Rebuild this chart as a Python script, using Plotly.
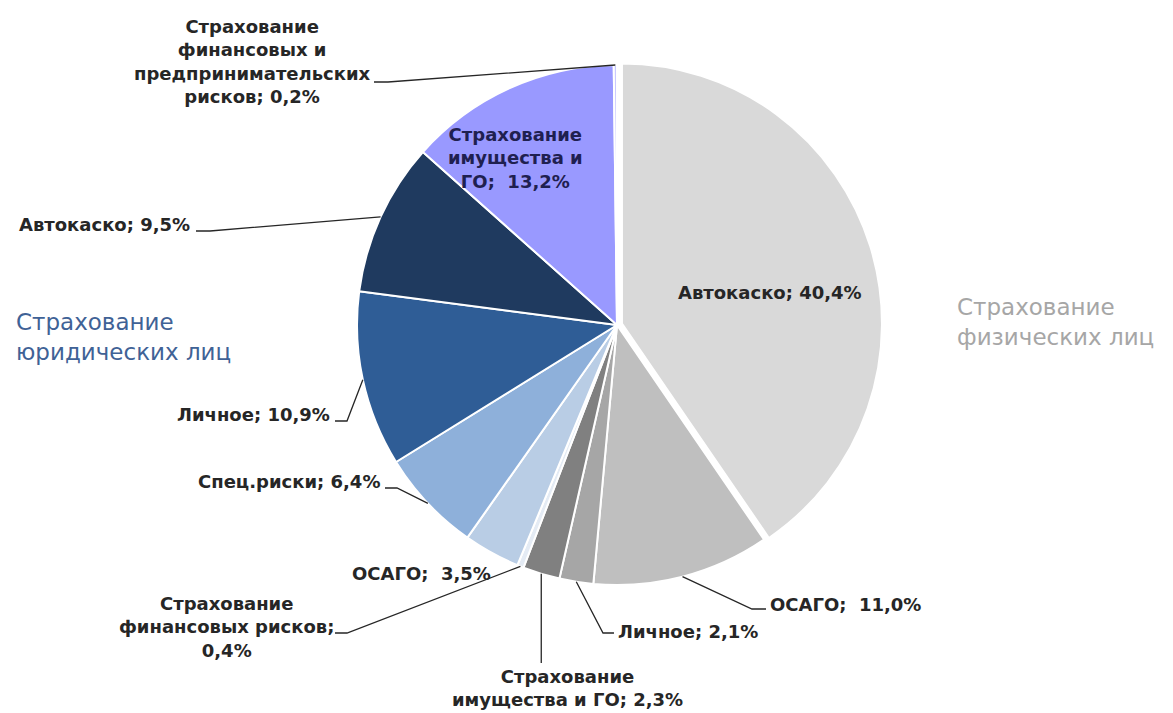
import math
import plotly.graph_objects as go

W, H = 1173, 713

# ---------------- data ----------------
categories = [
    "Автокаско", "ОСАГО", "Личное", "Страхование имущества и ГО",
    "Страхование финансовых рисков", "ОСАГО", "Спец.риски", "Личное",
    "Автокаско", "Страхование имущества и ГО",
    "Страхование финансовых и предпринимательских рисков",
]
values = [40.4, 11.0, 2.1, 2.3, 0.4, 3.5, 6.4, 10.9, 9.5, 13.2, 0.2]
label_tpl = [
    "Автокаско; {v}",
    "ОСАГО;  {v}",
    "Личное; {v}",
    "Страхование<br>имущества и ГО; {v}",
    "Страхование<br>финансовых рисков;<br>{v}",
    "ОСАГО;  {v}",
    "Спец.риски; {v}",
    "Личное; {v}",
    "Автокаско; {v}",
    "Страхование<br>имущества и<br>ГО;  {v}",
    "Страхование<br>финансовых и<br>предпринимательских<br>рисков; {v}",
]
group_labels = ["Страхование<br>физических лиц", "Страхование<br>юридических лиц"]

# ---------------- style ----------------
colors = ["#D9D9D9", "#BFBFBF", "#A6A6A6", "#808080", "#E4EBF4",
          "#B9CDE5", "#8EB0DA", "#2F5D96", "#1F3A5F", "#9999FF", "#C9C9FF"]
pulls = [0.02, 0, 0, 0, 0, 0, 0, 0, 0, 0, 0]

CX, CY, R = 617, 325, 260
half = R * (1 + max(pulls))
dom_x = [(CX - half) / W, (CX + half) / W]
dom_y = [1 - (CY + half) / H, 1 - (CY - half) / H]

FONT = "DejaVu Sans"
TXT = "#262626"
LBL_SIZE = 18


def fmt(v):
    return f"{v:.1f}".replace(".", ",") + "%"


def P(x, y):
    return x / W, 1 - y / H


total = sum(values)
mids = []
acc = 0.0
for v in values:
    mids.append(360.0 * (acc + v / 2) / total)
    acc += v


def edge(i, k=1.0):
    a = math.radians(mids[i])
    rr = R * (k + pulls[i])
    return CX + rr * math.sin(a), CY - rr * math.cos(a)


fig = go.Figure(go.Pie(
    labels=[f"{c} ({i})" for i, c in enumerate(categories)],
    values=values,
    sort=False,
    direction="clockwise",
    rotation=0,
    pull=pulls,
    marker=dict(colors=colors, line=dict(color="white", width=2)),
    textinfo="none",
    hoverinfo="label+value",
    domain=dict(x=dom_x, y=dom_y),
    showlegend=False,
))

annotations = []
shapes = []

# label placement: (index, x, y, xanchor, align, color)
placements = [
    (0, 770, 292, "center", "center", TXT),
    (1, 768, 604, "left", "left", TXT),
    (2, 616, 631, "left", "left", TXT),
    (3, 567, 688, "center", "center", TXT),
    (4, 226, 627, "center", "center", TXT),
    (5, 421, 573, "center", "center", TXT),
    (6, 382, 481, "right", "right", TXT),
    (7, 332, 415, "right", "right", TXT),
    (8, 192, 224, "right", "right", TXT),
    (9, 515, 158, "center", "center", "#1F2050"),
    (10, 252, 61, "center", "center", TXT),
]
for i, x, y, xa, al, col in placements:
    xx, yy = P(x, y)
    txt = "<br>".join(f"<b>{s}</b>" for s in label_tpl[i].format(v=fmt(values[i])).split("<br>"))
    annotations.append(dict(
        x=xx, y=yy, xref="paper", yref="paper", xanchor=xa, yanchor="middle",
        align=al, showarrow=False, text=txt,
        font=dict(family=FONT, size=LBL_SIZE, color=col),
    ))

# leader lines: (index, label end point, elbow point)
leaders = [
    (10, (374, 82), (388, 82)),
    (8, (196, 231), (210, 231)),
    (7, (335, 421), (347, 421)),
    (6, (385, 488), (397, 488)),
    (4, (335, 633), (347, 633)),
    (2, (614, 633), (603, 633)),
    (1, (766, 609), (752, 609)),
]
for i, p0, p1 in leaders:
    ex, ey = edge(i)
    pts = [P(*p0), P(*p1), P(ex, ey)]
    path = "M " + " L ".join(f"{a:.5f},{b:.5f}" for a, b in pts)
    shapes.append(dict(type="path", xref="paper", yref="paper", path=path,
                       line=dict(color="#262626", width=1.3)))
# vertical leader for index 3
ex, ey = edge(3)
(x0, y0), (x1, y1) = P(ex, 663), P(ex, ey)
shapes.append(dict(type="line", xref="paper", yref="paper", x0=x0, y0=y0, x1=x1, y1=y1,
                   line=dict(color="#262626", width=1.3)))

# group labels
gx, gy = P(955, 322)
annotations.append(dict(x=gx, y=gy, xref="paper", yref="paper", xanchor="left",
                        yanchor="middle", align="left", showarrow=False,
                        text=group_labels[0],
                        font=dict(family=FONT, size=23, color="#A6A6A6")))
gx, gy = P(14, 337)
annotations.append(dict(x=gx, y=gy, xref="paper", yref="paper", xanchor="left",
                        yanchor="middle", align="left", showarrow=False,
                        text=group_labels[1],
                        font=dict(family=FONT, size=23, color="#3F6296")))

fig.update_layout(
    width=W, height=H,
    margin=dict(l=0, r=0, t=0, b=0),
    paper_bgcolor="white", plot_bgcolor="white",
    annotations=annotations, shapes=shapes,
)

fig.write_html("out.html", config={"displayModeBar": False},
               post_script="document.body.style.margin='0';")
